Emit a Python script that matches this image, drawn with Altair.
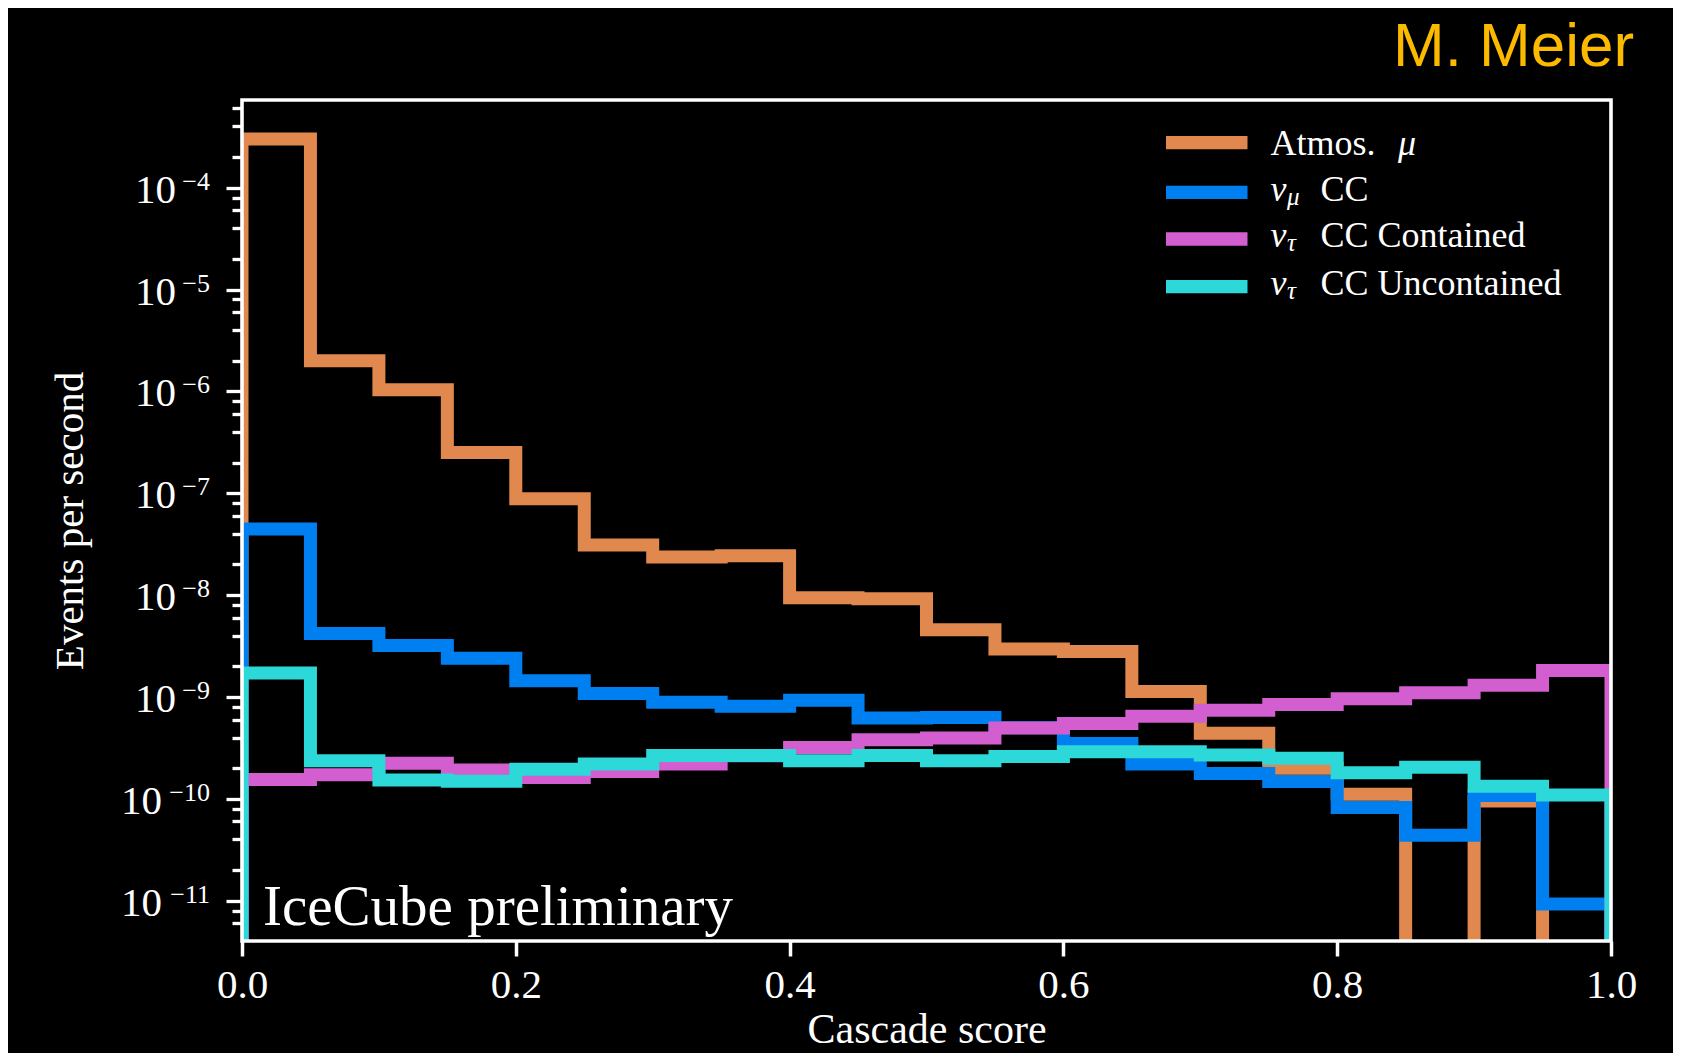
import altair as alt
import pandas as pd

# ---------------- data ----------------
bin_edges = [0.0, 0.05, 0.1, 0.15, 0.2, 0.25, 0.3, 0.35, 0.4, 0.45, 0.5,
             0.55, 0.6, 0.65, 0.7, 0.75, 0.8, 0.85, 0.9, 0.95, 1.0]

series_names = ["Atmos. μ", "νμ CC", "ντ CC Contained", "ντ CC Uncontained"]

atmos_mu = [3.0e-4, 2.0e-6, 1.04e-6, 2.52e-7, 8.85e-8, 3.1e-8, 2.37e-8, 2.43e-8,
            9.4e-9, 9.2e-9, 4.57e-9, 2.95e-9, 2.8e-9, 1.13e-9, 4.4e-10, 2.0e-10,
            1.11e-10, 0.0, 9.5e-11, 0.0]
numu_cc = [4.45e-8, 4.2e-9, 3.2e-9, 2.4e-9, 1.44e-9, 1.08e-9, 8.9e-10, 8.1e-10,
           9.3e-10, 6.2e-10, 6.3e-10, 5.0e-10, 3.5e-10, 2.2e-10, 1.77e-10, 1.48e-10,
           8.2e-11, 4.4e-11, 1.08e-10, 9.3e-12]
nutau_contained = [1.55e-10, 1.72e-10, 2.23e-10, 1.92e-10, 1.62e-10, 1.85e-10, 2.2e-10,
                   2.65e-10, 3.2e-10, 3.8e-10, 3.95e-10, 4.95e-10, 5.5e-10, 6.45e-10,
                   7.4e-10, 8.45e-10, 9.6e-10, 1.1e-9, 1.3e-9, 1.82e-9]
nutau_uncontained = [1.72e-9, 2.37e-10, 1.53e-10, 1.49e-10, 1.95e-10, 2.2e-10, 2.67e-10,
                     2.67e-10, 2.37e-10, 2.67e-10, 2.37e-10, 2.6e-10, 2.9e-10, 2.9e-10,
                     2.7e-10, 2.5e-10, 1.8e-10, 2.04e-10, 1.33e-10, 1.09e-10]

series_values = [atmos_mu, numu_cc, nutau_contained, nutau_uncontained]
series_colors = ["#E1884E", "#0080F0", "#D35ED0", "#2CD8D8"]

x_tick_values = [0.0, 0.2, 0.4, 0.6, 0.8, 1.0]
y_major_ticks = [1e-11, 1e-10, 1e-9, 1e-8, 1e-7, 1e-6, 1e-5, 1e-4]
y_label_base = ["10", "10", "10", "10", "10", "10", "10", "10"]
y_label_exp = ["−11", "−10", "−9", "−8", "−7", "−6", "−5", "−4"]
y_minor_ticks = [6e-12, 8e-12,
                 2e-11, 4e-11, 6e-11, 8e-11,
                 2e-10, 4e-10, 6e-10, 8e-10,
                 2e-9, 4e-9, 6e-9, 8e-9,
                 2e-8, 4e-8, 6e-8, 8e-8,
                 2e-7, 4e-7, 6e-7, 8e-7,
                 2e-6, 4e-6, 6e-6, 8e-6,
                 2e-5, 4e-5, 6e-5, 8e-5,
                 2e-4, 4e-4, 6e-4]

# legend pieces
legend_main = ["Atmos.", "ν", "ν", "ν"]
legend_sub = ["", "μ", "τ", "τ"]
legend_rest = ["", "CC", "CC Contained", "CC Uncontained"]
legend_trail = ["μ", "", "", ""]

# ---------------- layout ----------------
W, H = 1369, 841
Y_DOMAIN = [4.02e-12, 7.26e-4]
FLOOR = 1e-14          # zero-count bins drop out of the log axis (as in matplotlib)
SERIF = "Liberation Serif"
SANS = "Liberation Sans"


def step_frame(values, name):
    xs, ys = [bin_edges[0]], [FLOOR]
    for i, v in enumerate(values):
        yv = v if v > 0 else FLOOR
        xs += [bin_edges[i], bin_edges[i + 1]]
        ys += [yv, yv]
    xs.append(bin_edges[-1])
    ys.append(FLOOR)
    return pd.DataFrame({"x": xs, "y": ys, "o": list(range(len(xs))), "series": name})


major_test = "abs(log(datum.value)/LN10 - round(log(datum.value)/LN10)) < 0.001"

x_enc = alt.X(
    "x:Q",
    scale=alt.Scale(domain=[0, 1], nice=False, zero=False),
    axis=alt.Axis(
        values=x_tick_values, format=".1f", title="Cascade score",
        labelFont=SERIF, labelFontSize=41, labelColor="white",
        labelFlush=False, labelOverlap=False, labelPadding=41,
        labelBaseline="alphabetic",
        tickColor="white", tickSize=15, tickWidth=3.5,
        domain=False, grid=False,
        titleFont=SERIF, titleFontSize=42, titleFontWeight="normal",
        titleColor="white", titleX=W / 2, titleY=101,
        titleBaseline="alphabetic", titleAlign="center",
    ),
)
y_enc = alt.Y(
    "y:Q",
    scale=alt.Scale(type="log", domain=Y_DOMAIN, nice=False),
    axis=alt.Axis(
        values=y_major_ticks + y_minor_ticks, labels=False,
        tickColor="white", tickWidth=3.3,
        tickSize={"condition": {"test": major_test, "value": 16}, "value": 10},
        domain=False, grid=False,
        title="Events per second",
        titleFont=SERIF, titleFontSize=41, titleFontWeight="normal",
        titleColor="white", titleX=-160, titleY=H / 2, titleAngle=270,
        titleBaseline="alphabetic", titleAlign="center",
    ),
)

layers = []
for name, vals, col in zip(series_names, series_values, series_colors):
    layers.append(
        alt.Chart(step_frame(vals, name))
        .mark_line(color=col, strokeWidth=13, clip=True, strokeJoin="miter",
                   strokeCap="butt")
        .encode(x=x_enc, y=y_enc, order="o:Q")
    )

# y tick labels: "10" with a raised exponent, placed through the y scale
ylab = pd.DataFrame({"y": y_major_ticks, "base": y_label_base, "exp": y_label_exp})
ylab["two"] = ylab["exp"].str.len() > 2
for two, base_x in [(False, -66), (True, -80)]:
    sub = ylab[ylab["two"] == two]
    layers.append(
        alt.Chart(sub).mark_text(font=SERIF, fontSize=41, color="white",
                                 align="right", baseline="alphabetic", dy=15)
        .encode(x=alt.value(base_x), y=y_enc, text="base:N")
    )
layers.append(
    alt.Chart(ylab).mark_text(font=SERIF, fontSize=26, color="white",
                              align="right", baseline="alphabetic", dy=2)
    .encode(x=alt.value(-32), y=y_enc, text="exp:N")
)

one = pd.DataFrame({"a": [0]})

# frame on top of the histograms
layers.append(
    alt.Chart(one).mark_rect(fillOpacity=0, stroke="white", strokeWidth=3.6)
    .encode(x=alt.value(0), x2=alt.value(W), y=alt.value(0), y2=alt.value(H))
)


def text_layer(s, x, y, size, style="normal", color="white", font=SERIF):
    return (
        alt.Chart(pd.DataFrame({"t": [s]}))
        .mark_text(font=font, fontSize=size, fontStyle=style, color=color,
                   align="left", baseline="alphabetic")
        .encode(x=alt.value(x), y=alt.value(y), text="t:N")
    )


layers.append(text_layer("IceCube preliminary", 21, 825, 57))
layers.append(text_layer("M. Meier", 1151, -34, 62, color="#FBBA00", font=SANS))

# legend
sym_y = [42.7, 92.3, 139.0, 186.7]
txt_y = [55.0, 100.5, 147.3, 195.0]
for i in range(4):
    layers.append(
        alt.Chart(one).mark_rule(color=series_colors[i], strokeWidth=13.3,
                                 strokeCap="butt")
        .encode(x=alt.value(924), x2=alt.value(1005.5), y=alt.value(sym_y[i]))
    )
    if legend_sub[i]:
        layers.append(text_layer(legend_main[i], 1028.5, txt_y[i], 36, style="italic"))
        layers.append(text_layer(legend_sub[i], 1045, txt_y[i] + 4, 25, style="italic"))
        layers.append(text_layer(legend_rest[i], 1078.5, txt_y[i], 36))
    else:
        layers.append(text_layer(legend_main[i], 1028.5, txt_y[i], 36))
        layers.append(text_layer(legend_trail[i], 1156, txt_y[i], 36, style="italic"))

chart = (
    alt.layer(*layers)
    .properties(
        width=W, height=H, background="black",
        padding={"left": 234, "top": 92, "right": 62, "bottom": 112},
        autosize=alt.AutoSizeParams(type="none"),
    )
    .configure_view(stroke=None)
)

chart.save("out.html", embed_options={"renderer": "svg", "actions": False})
